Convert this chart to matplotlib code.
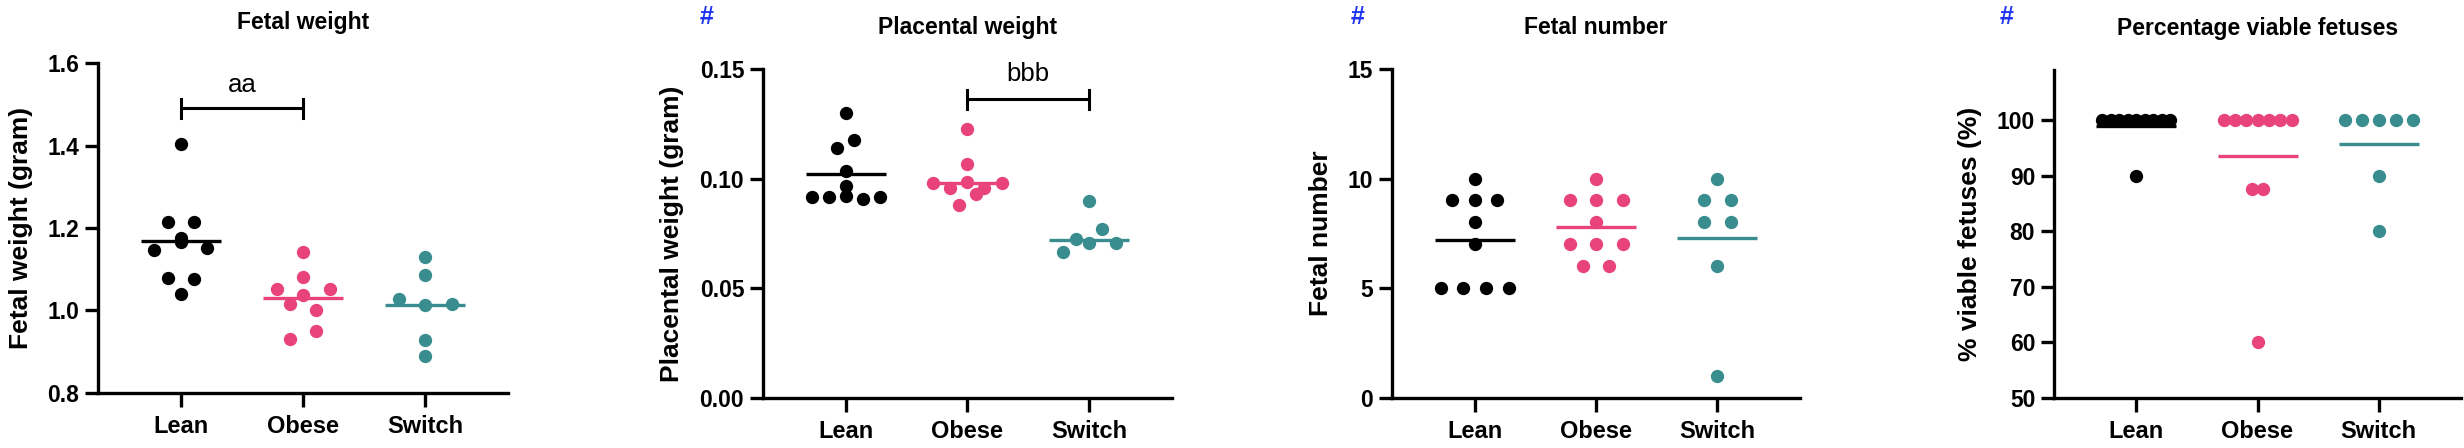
import numpy as np
import matplotlib
matplotlib.use('Agg')
import matplotlib.pyplot as plt

plt.rcParams['font.family'] = ['Liberation Sans', 'DejaVu Sans']

groups = ['Lean', 'Obese', 'Switch']
colors = ['#000000', '#E8437A', '#3A8D8F']

# fetal weight (gram)
lean_fw = [1.404, 1.215, 1.215, 1.175, 1.147, 1.165, 1.151, 1.078, 1.076, 1.039]
obese_fw = [1.142, 1.080, 1.051, 1.037, 1.051, 1.015, 1.002, 0.930, 0.951]
switch_fw = [1.129, 1.086, 1.027, 1.013, 1.015, 0.928, 0.889]
fw_center = [1.169, 1.029, 1.013]

# placental weight (gram)
lean_pw = [0.1298, 0.1138, 0.1176, 0.1035, 0.0968, 0.0917, 0.0917, 0.0920, 0.0907, 0.0917]
obese_pw = [0.1226, 0.1066, 0.0978, 0.0955, 0.0986, 0.0955, 0.0978, 0.0879, 0.0928]
switch_pw = [0.0898, 0.0722, 0.0768, 0.0666, 0.0707, 0.0707]
pw_center = [0.1021, 0.0978, 0.0720]

# fetal number
lean_fn = [10, 9, 9, 9, 8, 7, 5, 5, 5, 5]
obese_fn = [10, 9, 9, 9, 8, 7, 7, 7, 6, 6]
switch_fn = [10, 9, 9, 8, 8, 6, 1]
fn_center = [7.2, 7.8, 7.3]

# percentage viable fetuses
lean_vf = [100, 100, 100, 100, 100, 100, 100, 100, 100, 90]
obese_vf = [100, 100, 100, 100, 100, 100, 100, 87.5, 87.5, 60]
switch_vf = [100, 100, 100, 100, 100, 90, 80]
vf_center = [99.0, 93.5, 95.7]

W, H, DPI = 2464, 448, 100
MARKER_PX = 13.3
STEP_PX = 26.5
MAX_SPAN_PX = 68
HALF_LINE_PX = 40


def swarm_offsets(values, px_per_y):
    # rows of close values, spread symmetrically (GraphPad-like)
    values = np.asarray(values, float)
    order = np.argsort(values, kind='stable')
    tol = 0.85 * MARKER_PX / px_per_y
    rows = []
    current = [order[0]]
    for idx in order[1:]:
        if values[idx] - values[current[0]] <= tol:
            current.append(idx)
        else:
            rows.append(current)
            current = [idx]
    rows.append(current)
    nmax = max(len(r) for r in rows)
    step = STEP_PX if nmax < 2 else min(STEP_PX, MAX_SPAN_PX / (nmax - 1))
    offsets = np.zeros(len(values))
    for r in rows:
        r = sorted(r)
        for k, idx in enumerate(r):
            offsets[idx] = (k - (len(r) - 1) / 2) * step
    return offsets


def draw_panel(fig, rect_px, series, centers, ylim, yticks, ticklabels, title,
               ylabel, label_x, bracket=None, hash_x=None):
    left, right, top, bottom = rect_px
    ax = fig.add_axes([left / W, 1 - bottom / H, (right - left) / W, (bottom - top) / H])
    xlim = (-0.68, 2.68)
    ax.set_xlim(*xlim)
    ax.set_ylim(*ylim)
    px_per_x = (right - left) / (xlim[1] - xlim[0])
    px_per_y = (bottom - top) / (ylim[1] - ylim[0])

    for i, vals in enumerate(series):
        off = swarm_offsets(vals, px_per_y) / px_per_x
        ax.scatter(i + off, vals, s=(MARKER_PX * 0.72) ** 2, color=colors[i],
                   linewidths=0, zorder=2, clip_on=False)
        half = HALF_LINE_PX / px_per_x
        ax.plot([i - half, i + half], [centers[i], centers[i]], color=colors[i],
                lw=2.4, solid_capstyle='butt', zorder=3)

    if bracket is not None:
        i0, i1, yb, ytxt, label = bracket
        cap = 9.5 / px_per_y
        ax.plot([i0, i1], [yb, yb], color='black', lw=2.2, solid_capstyle='butt')
        ax.plot([i0, i0], [yb - cap, yb + cap], color='black', lw=2.2)
        ax.plot([i1, i1], [yb - cap, yb + cap], color='black', lw=2.2)
        ax.text((i0 + i1) / 2, ytxt, label, ha='center', va='center', fontsize=18.5)

    for side in ['top', 'right']:
        ax.spines[side].set_visible(False)
    for side in ['left', 'bottom']:
        ax.spines[side].set_linewidth(2.4)
    ax.set_xticks(range(len(groups)))
    ax.set_xticklabels(groups, fontsize=17, fontweight='bold')
    ax.set_yticks(yticks)
    ax.set_yticklabels(ticklabels, fontsize=16.5, fontweight='bold')
    ax.tick_params(axis='x', length=10, width=2.4, pad=6)
    ax.tick_params(axis='y', length=9.5, width=2.4, pad=4)
    ax.set_ylabel(ylabel, fontsize=19, fontweight='bold')
    ax.yaxis.set_label_coords((label_x - left) / (right - left), 0.5)
    ax.set_title(title, fontsize=16.5, fontweight='bold', pad=25)

    if hash_x is not None:
        fig.text(hash_x / W, 1 - 17.5 / H, '#', color='#1E34F0', fontsize=18,
                 fontweight='bold', ha='center', va='center')
    return ax


fig = plt.figure(figsize=(W / DPI, H / DPI), dpi=DPI)

draw_panel(fig, (98, 508, 63.3, 392.7), [lean_fw, obese_fw, switch_fw], fw_center,
           (0.8, 1.6), [0.8, 1.0, 1.2, 1.4, 1.6], ['0.8', '1.0', '1.2', '1.4', '1.6'],
           'Fetal weight', 'Fetal weight (gram)', 33,
           bracket=(0, 1, 1.491, 1.547, 'aa'))

draw_panel(fig, (763, 1172, 69, 397.7), [lean_pw, obese_pw, switch_pw], pw_center,
           (0.0, 0.15), [0.0, 0.05, 0.10, 0.15], ['0.00', '0.05', '0.10', '0.15'],
           'Placental weight', 'Placental weight (gram)', 684,
           bracket=(1, 2, 0.1363, 0.1477, 'bbb'), hash_x=707)

draw_panel(fig, (1392, 1800, 69, 397.7), [lean_fn, obese_fn, switch_fn], fn_center,
           (0, 15), [0, 5, 10, 15], ['0', '5', '10', '15'],
           'Fetal number', 'Fetal number', 1333, hash_x=1358)

draw_panel(fig, (2054, 2461, 70, 397.7), [lean_vf, obese_vf, switch_vf], vf_center,
           (50, 109.0), [50, 60, 70, 80, 90, 100], ['50', '60', '70', '80', '90', '100'],
           'Percentage viable fetuses', '% viable fetuses (%)', 1982, hash_x=2007)

fig.savefig('out.png', dpi=DPI)
